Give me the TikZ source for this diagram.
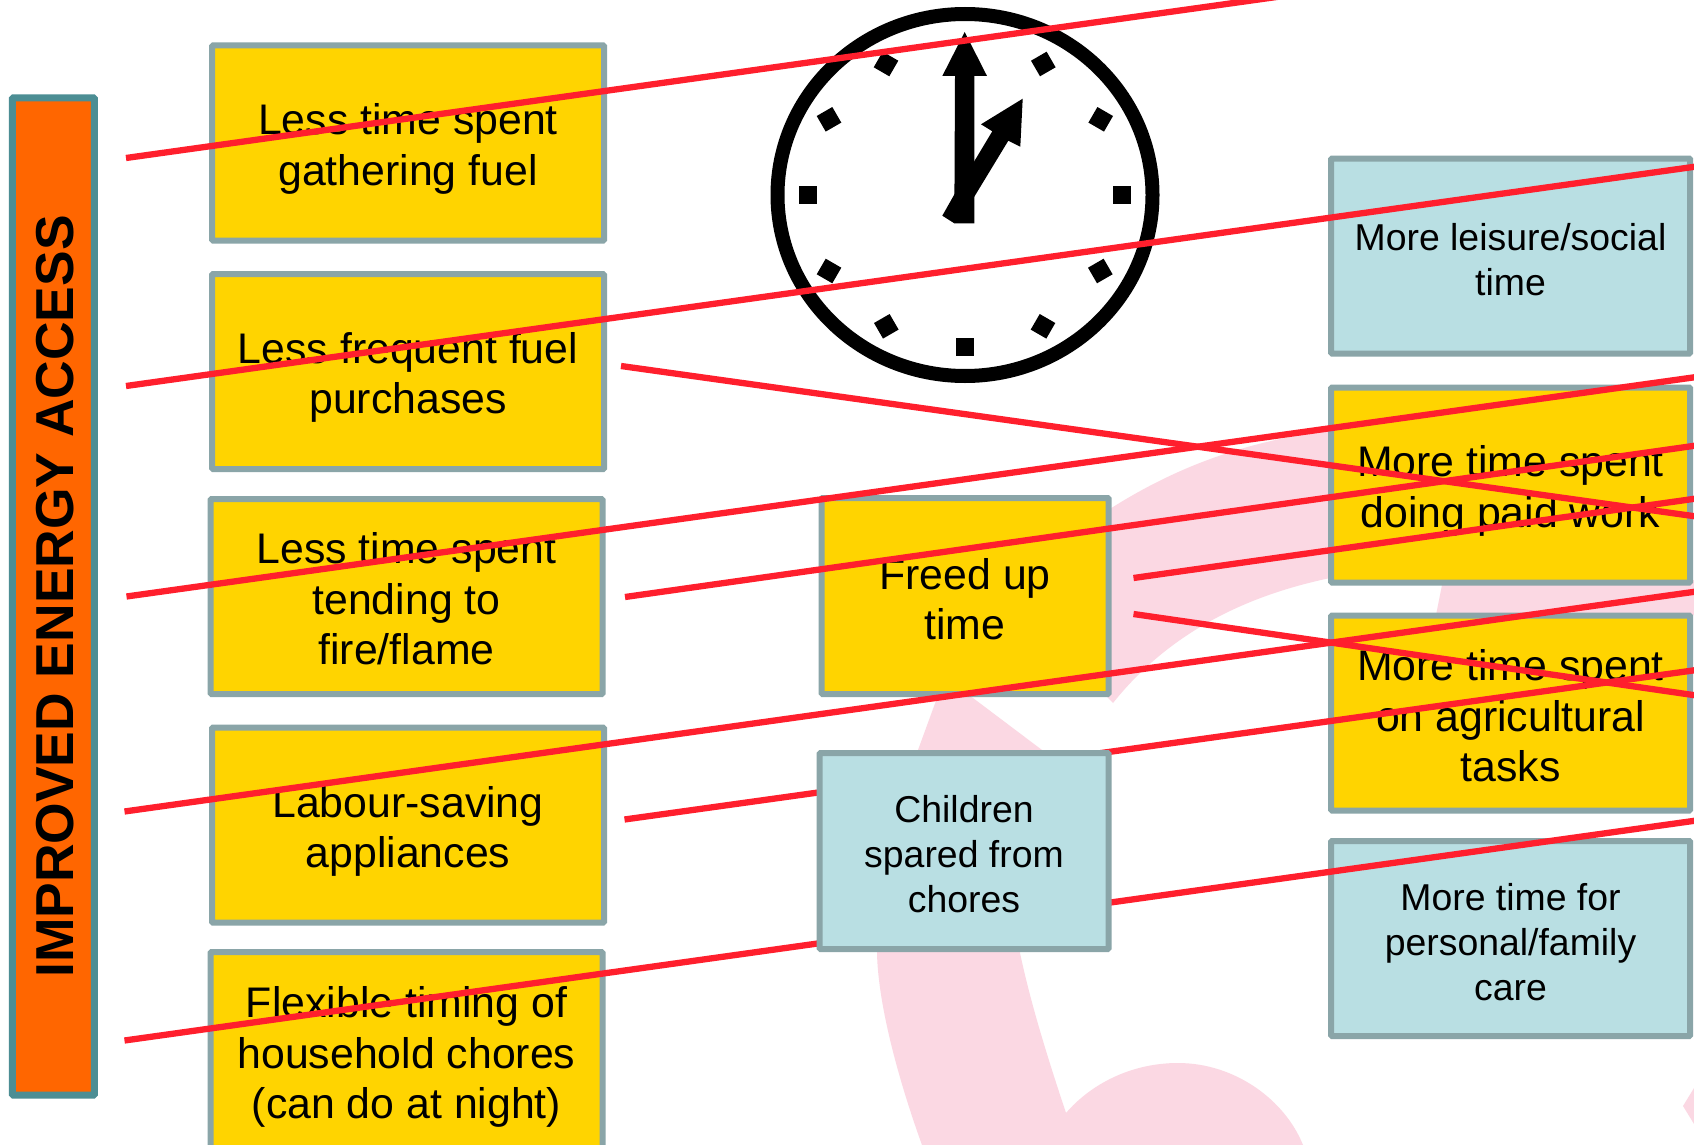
\documentclass[tikz,border=0pt]{standalone}
\usepackage{fontspec}
\usetikzlibrary{shapes.geometric}
\setmainfont{Liberation Sans}
\definecolor{boxyellow}{HTML}{FFD400}
\definecolor{boxblue}{HTML}{B9DFE3}
\definecolor{boxgrey}{HTML}{8AA5A8}
\definecolor{titleorange}{HTML}{FF6600}
\definecolor{titleteal}{HTML}{4C8E94}
\definecolor{linkred}{HTML}{FF1F2D}
\definecolor{wmpink}{HTML}{FBD8E3}
\newcommand{\topgap}[1]{\rule{0pt}{#1pt}}
\tikzset{
  cardbase/.style={draw=boxgrey,line width=6pt,rounded corners=1pt,align=center,inner sep=0pt,text=black},
  leftcard/.style={cardbase,fill=boxyellow,font=\fontsize{42.8}{50.5}\selectfont,minimum width=392pt,minimum height=195pt},
  midcard/.style={cardbase,minimum width=287pt,minimum height=196pt},
  rightcard/.style={cardbase,minimum width=359pt,minimum height=195pt},
  bluecard/.style={fill=boxblue,font=\fontsize{37.4}{45}\selectfont},
  yellowcard/.style={fill=boxyellow,font=\fontsize{42.8}{50.5}\selectfont},
  link/.style={draw=linkred,line width=6.3pt},
  wm/.style={fill=wmpink,draw=none},
  tickmark/.style={fill=black,draw=none,minimum size=18pt,inner sep=0pt,outer sep=0pt}
}
\begin{document}
\begin{tikzpicture}[x=1pt,y=-1pt]
\useasboundingbox (0,0) rectangle (1694,1145);
\clip (0,0) rectangle (1694,1145);
\fill[white] (0,0) rectangle (1694,1145);
% watermark
\path[wm] (1060,540) -- (1113,507) .. controls (1180,465) and (1250,440) .. (1335,430)
  -- (1335,577) .. controls (1260,592) and (1175,625) .. (1113,703) -- (1100,690) -- (1060,690) -- cycle;
\path[wm] (955,688) -- (937,698) -- (918,750) -- (877,953) .. controls (878,1000) and (895,1070) .. (922,1145)
  -- (1303,1145) .. controls (1285,1100) and (1235,1063) .. (1178,1063)
  .. controls (1130,1063) and (1090,1085) .. (1066,1113) .. controls (1045,1050) and (1030,1000) .. (1020,953)
  -- (1042,750) -- (973,698) -- cycle;
\path[wm] (1443,580) -- (1436,615) -- (1694,615) -- (1694,580) -- cycle;
\path[wm] (1683,1106) -- (1694,1088) -- (1694,1124) -- cycle;
% clock
\node[draw=black,line width=14pt,shape=ellipse,minimum width=375pt,minimum height=362pt,inner sep=0pt] (clockface) at (965,195) {};
\node[tickmark,rotate=30] (t1) at (1043.3,64) {};
\node[tickmark,rotate=60] (t2) at (1100.7,119.3) {};
\node[tickmark] (t3) at (1121.7,195) {};
\node[tickmark,rotate=-60] (t4) at (1100.3,271) {};
\node[tickmark,rotate=-30] (t5) at (1043,326.3) {};
\node[tickmark] (t6) at (965,346.7) {};
\node[tickmark,rotate=30] (t7) at (886.3,326.3) {};
\node[tickmark,rotate=60] (t8) at (829,271) {};
\node[tickmark] (t9) at (807.7,195) {};
\node[tickmark,rotate=-60] (t10) at (829,119.3) {};
\node[tickmark,rotate=-30] (t11) at (886,64) {};
\fill[black] (942.3,215.7) -- (954.3,223.3) -- (974.3,196.7) -- (1008.3,140.7) -- (1020.3,146.7) -- (1022.7,98.7) -- (981,124.3) -- (992.3,131.3) -- (955,193.3) -- cycle;
\fill[black] (964.7,32) -- (987,76) -- (974.3,76) -- (974.3,223.3) -- (954.3,223.3) -- (955,76) -- (942.3,76) -- cycle;
% title
\node[draw=titleteal,fill=titleorange,line width=7pt,rounded corners=1pt,rotate=90,minimum width=997pt,minimum height=82pt,inner sep=0pt,
  font=\fontsize{53.4}{60}\selectfont\bfseries,text=black] (title) at (53.3,596.5) {\topgap{40}IMPROVED ENERGY ACCESS};
% left column
\node[leftcard] (gather) at (408,143) {\topgap{43}Less time spent\\gathering fuel};
\node[leftcard] (purchase) at (408,371.5) {\topgap{43}Less frequent fuel\\purchases};
\node[leftcard] (tend) at (406.5,596.5) {\topgap{36}Less time spent\\tending to\\fire/flame};
\node[leftcard] (labour) at (408,825) {\topgap{44}Labour-saving\\appliances};
\node[leftcard,minimum height=200pt] (flexible) at (406.5,1052) {\topgap{41}Flexible timing of\\household chores\\(can do at night)};
% centre
\node[midcard,yellowcard] (freed) at (965,596) {\topgap{37}Freed up\\time};
% right column
\node[rightcard,bluecard] (leisure) at (1510.5,256) {\topgap{34}More leisure/social\\time};
\node[rightcard,yellowcard] (paid) at (1510.5,485) {\topgap{43}More time spent\\doing paid work};
\node[rightcard,yellowcard] (agri) at (1510.5,713) {\topgap{37}More time spent\\on agricultural\\tasks};
\node[rightcard,bluecard] (care) at (1510.5,938.5) {\topgap{34}More time for\\personal/family\\care};
% connectors
\coordinate (a1) at (126,158);   \coordinate (b1) at (1300,-6.3);
\coordinate (a2) at (126,386);   \coordinate (b2) at (1700,166);
\coordinate (a3) at (621,366);   \coordinate (b3) at (1700,517);
\coordinate (a4) at (126.5,596.5); \coordinate (b4) at (1700,376.5);
\coordinate (a5) at (625,597);   \coordinate (b5) at (1700,445);
\coordinate (a6) at (1133.5,578);\coordinate (b6) at (1700,498);
\coordinate (a7) at (1133.5,614);\coordinate (b7) at (1700,696);
\coordinate (a8) at (124.5,811.5); \coordinate (b8) at (1700,591);
\coordinate (a9) at (624.5,819.5); \coordinate (b9) at (1700,669.5);
\coordinate (a10) at (124.5,1040.5);\coordinate (b10) at (1700,820);
\draw[link] (a1) -- (b1);
\draw[link] (a2) -- (b2);
\draw[link] (a3) -- (b3);
\draw[link] (a4) -- (b4);
\draw[link] (a5) -- (b5);
\draw[link] (a6) -- (b6);
\draw[link] (a7) -- (b7);
\draw[link] (a8) -- (b8);
\draw[link] (a9) -- (b9);
\draw[link] (a10) -- (b10);
% children box sits above the links
\node[midcard,bluecard,minimum width=289pt] (children) at (964,851) {\topgap{34}Children\\spared from\\chores};
\end{tikzpicture}
\end{document}
